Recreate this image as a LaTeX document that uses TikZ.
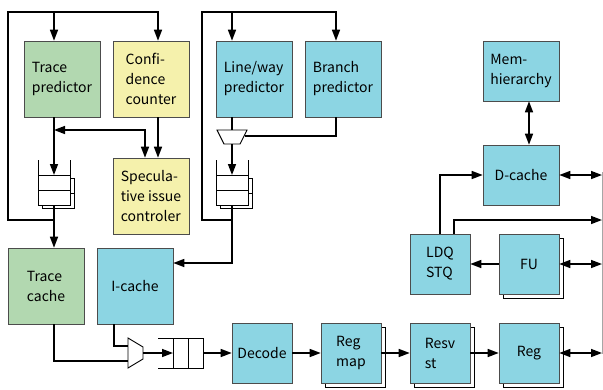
\documentclass[tikz,border=0pt]{standalone}
\usepackage{fontspec}
\setmainfont{Noto Sans CJK JP}
\usetikzlibrary{arrows.meta,shadows}
\definecolor{hwblue}{RGB}{140,213,227}
\definecolor{hwgreen}{RGB}{178,216,176}
\definecolor{hwyellow}{RGB}{245,241,172}

\begin{document}
\begin{tikzpicture}[x=1pt, y=-1pt,
  ublock/.style={rectangle, draw=black!70, line width=0.6pt, inner sep=0pt,
                 font=\fontsize{14}{20}\selectfont, align=left},
  bigbox/.style={ublock, minimum width=76pt, minimum height=76pt},
  smallbox/.style={ublock, fill=hwblue, minimum width=60pt, minimum height=60pt},
  shbox/.style={smallbox, copy shadow={shadow xshift=4pt, shadow yshift=-4pt,
                fill=white, draw=black, line width=0.8pt}},
  wire/.style={line width=1.5pt},
  arr/.style={wire, -{Triangle[length=11pt,width=8pt]}},
  darr/.style={wire, {Triangle[length=11pt,width=8pt]}-{Triangle[length=11pt,width=8pt]}},
  qline/.style={line width=0.9pt}
]
\useasboundingbox (0,0) rectangle (603,389);

% Trace side
\node[bigbox, fill=hwgreen]  (tpred)  at (62,79)  {Trace\\predictor};
\node[bigbox, fill=hwyellow] (conf)   at (151,79) {Confi-\\dence\\counter};
\node[bigbox, fill=hwyellow] (spec)   at (151,196) {Specula-\\tive issue\\controler};
\node[bigbox, fill=hwgreen]  (tcache) at (46,286) {Trace\\cache};
\node[bigbox, fill=hwblue]   (icache) at (135,286) {I-cache};

% Line/way side
\node[bigbox, fill=hwblue] (lwpred) at (254,79) {Line/way\\predictor};
\node[bigbox, fill=hwblue] (bpred)  at (343,79) {Branch\\predictor};

% Memory side
\node[smallbox, minimum width=76pt] (mem)    at (521,71)  {Mem-\\hierarchy};
\node[smallbox, minimum width=76pt] (dcache) at (521,175) {D-cache};
\node[smallbox] (ldq) at (440,264) {LDQ\\STQ};
\node[shbox]    (fu)  at (529,264) {FU};

% Pipeline
\node[smallbox] (dec)    at (262,353) {Decode};
\node[shbox]    (regmap) at (351,353) {Reg\\map};
\node[shbox]    (resv)   at (440,353) {Resv\\st};
\node[shbox]    (reg)    at (529,353) {Reg};

% Queues and muxes
\draw[qline, shift={(54,160)}] (-16,0) -- (-16,45) -- (16,45) -- (16,0)
  (-16,15) -- (16,15) (-16,30) -- (16,30)
  (16,18) -- (20,18) -- (20,48) -- (-12,48) -- (-12,45) (16,33) -- (20,33);
\draw[qline, shift={(232,160)}] (-16,0) -- (-16,45) -- (16,45) -- (16,0)
  (-16,15) -- (16,15) (-16,30) -- (16,30)
  (16,18) -- (20,18) -- (20,48) -- (-12,48) -- (-12,45) (16,33) -- (20,33);
\draw[qline] (158,338) -- (203,338) -- (203,368) -- (158,368)
  (173,338) -- (173,368) (188,338) -- (188,368);
\draw[qline, fill=white] (217,130) -- (247,130) -- (240,144) -- (224,144) -- cycle;
\draw[qline, fill=white] (128,338) -- (143,347) -- (143,359) -- (128,368) -- cycle;

\coordinate (tq)  at (54,175);
\coordinate (tqb) at (54,205);
\coordinate (tj)  at (54,220);
\coordinate (sj)  at (54,130);
\coordinate (lq)  at (232,175);
\coordinate (lqb) at (232,205);
\coordinate (lj)  at (232,220);
\coordinate (bus) at (602,0);

% Trace arrows
\draw[arr] (tj) -| (8,12) -| ([xshift=7pt]conf.north);
\draw[arr] (54,12) -- (tpred.north -| tj);
\draw[arr] (tpred.south -| tj) -- (tq);
\draw[wire] (tqb) -- (tj);
\draw[arr] (tj) -- (tcache.north -| tj);
\draw[darr] ([xshift=-6pt]spec.north) |- (sj);
\draw[arr] ([xshift=7pt]conf.south) -- ([xshift=7pt]spec.north);

% Line/way arrows
\draw[arr] (lj) -| (202,12) -| ([xshift=-7pt]bpred.north);
\draw[arr] (232,12) -- (lwpred.north -| lj);
\draw[wire] (lwpred.south -| lj) -- (232,130);
\draw[wire] ([xshift=-7pt]bpred.south) |- (245,136);
\draw[arr] (232,144) -- (lq);
\draw[wire] (lqb) -- (lj);
\draw[arr] (lj) |- ([yshift=23pt]icache.east);

% Fetch to decode
\draw[wire] ([xshift=8pt]tcache.south) |- (128,361);
\draw[wire] ([xshift=-21pt]icache.south) |- (128,346);
\draw[arr] (143,353) -- (173,353);
\draw[arr] (203,353) -- (dec);
\draw[arr] (dec) -- (regmap);
\draw[arr] (regmap) -- (resv);
\draw[arr] (resv) -- (reg);

% Bus
\draw[gray!70, line width=0.8pt] (602,172) -- (602,354);
\draw[darr] (dcache.east) -- (dcache.east -| bus);
\draw[darr] (fu.east) -- (fu.east -| bus);
\draw[darr] (reg.east) -- (reg.east -| bus);
\draw[arr] ([xshift=14pt]ldq.north) |- (602,220);
\draw[arr] (ldq.north) |- (dcache.west);
\draw[arr] (fu.west) -- (ldq.east);
\draw[darr] ([xshift=8pt]mem.south) -- ([xshift=8pt]dcache.north);
\end{tikzpicture}
\end{document}
